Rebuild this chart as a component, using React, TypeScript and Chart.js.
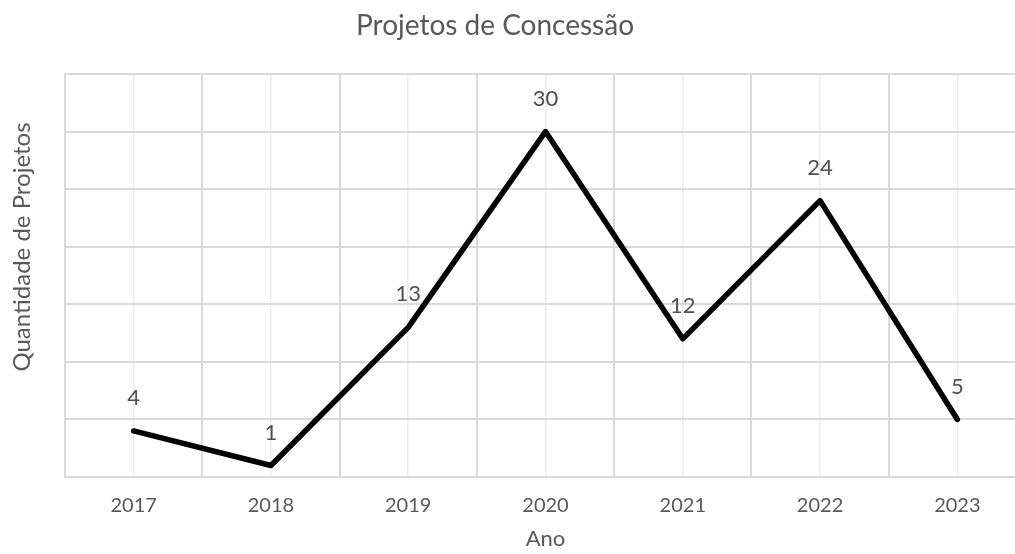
import React, { useEffect, useRef } from "react";
import { Chart, registerables } from "chart.js";

Chart.register(...registerables);

const chartTitle = "Projetos de Concessão";
const xAxisTitle = "Ano";
const yAxisTitle = "Quantidade de Projetos";
const years = ["2017", "2018", "2019", "2020", "2021", "2022", "2023"];
const projects = [4, 1, 13, 30, 12, 24, 5];
const yMin = 0;
const yMax = 35;
const yStep = 5;

const FONT = "Lato, 'Open Sans', sans-serif";
const TEXT = "#595959";

const textPlugin = {
  id: "customTexts",
  afterDatasetsDraw(chart: any) {
    const ctx = chart.ctx;
    const area = chart.chartArea;
    ctx.save();
    // data labels
    const meta = chart.getDatasetMeta(0);
    ctx.fillStyle = "#505050";
    ctx.font = `22px ${FONT}`;
    ctx.textAlign = "center";
    ctx.textBaseline = "middle";
    meta.data.forEach((pt: any, i: number) => {
      ctx.fillText(String(projects[i]), pt.x, pt.y - 33);
    });
    ctx.fillStyle = TEXT;
    ctx.textBaseline = "alphabetic";
    // chart title
    ctx.font = `28px ${FONT}`;
    ctx.fillText(chartTitle, 495, 35);
    // x axis title
    ctx.font = `22px ${FONT}`;
    ctx.fillText(xAxisTitle, (area.left + area.right) / 2, 546);
    // y axis title
    ctx.font = `24px ${FONT}`;
    ctx.translate(30, 247);
    ctx.rotate(-Math.PI / 2);
    ctx.fillText(yAxisTitle, 0, 0);
    ctx.restore();
  },
};

export default function App() {
  const ref = useRef<HTMLCanvasElement | null>(null);
  useEffect(() => {
    if (!ref.current) return;
    const chart = new Chart(ref.current, {
      type: "line",
      data: {
        datasets: [
          {
            data: projects.map((v, i) => ({ x: i, y: v })),
            borderColor: "#000000",
            borderWidth: 5.5,
            borderJoinStyle: "round",
            borderCapStyle: "round",
            pointRadius: 0,
            tension: 0,
            fill: false,
          },
        ],
      },
      options: {
        responsive: false,
        animation: false,
        layout: { padding: { left: 65, top: 74, right: 13, bottom: 19 } },
        plugins: {
          legend: { display: false },
          title: { display: false },
          tooltip: { enabled: false },
        },
        scales: {
          x: {
            type: "linear",
            min: -0.5,
            max: years.length - 0.5,
            ticks: {
              stepSize: 0.5,
              autoSkip: false,
              maxRotation: 0,
              padding: 17,
              color: TEXT,
              font: { family: FONT, size: 20 },
              callback: (v: any) =>
                Number.isInteger(v) && v >= 0 && v < years.length ? years[v] : "",
            },
            grid: {
              drawTicks: false,
              color: (c: any) =>
                Number.isInteger(c.tick?.value) ? "#ececec" : "#d9d9d9",
              lineWidth: (c: any) => (Number.isInteger(c.tick?.value) ? 1.5 : 2),
            },
            border: { color: "#d9d9d9", width: 2 },
          },
          y: {
            min: yMin,
            max: yMax,
            ticks: { stepSize: yStep, display: false },
            grid: { drawTicks: false, color: "#d9d9d9", lineWidth: 2 },
            border: { color: "#d9d9d9", width: 2 },
          },
        },
      },
      plugins: [textPlugin],
    } as any);
    return () => chart.destroy();
  }, []);

  return (
    <div
      style={{
        position: "fixed",
        left: 0,
        top: 0,
        width: 1015,
        height: 554,
        overflow: "hidden",
        background: "#ffffff",
      }}
    >
      <canvas ref={ref} width={1043} height={554} style={{ width: 1043, height: 554 }} />
    </div>
  );
}
